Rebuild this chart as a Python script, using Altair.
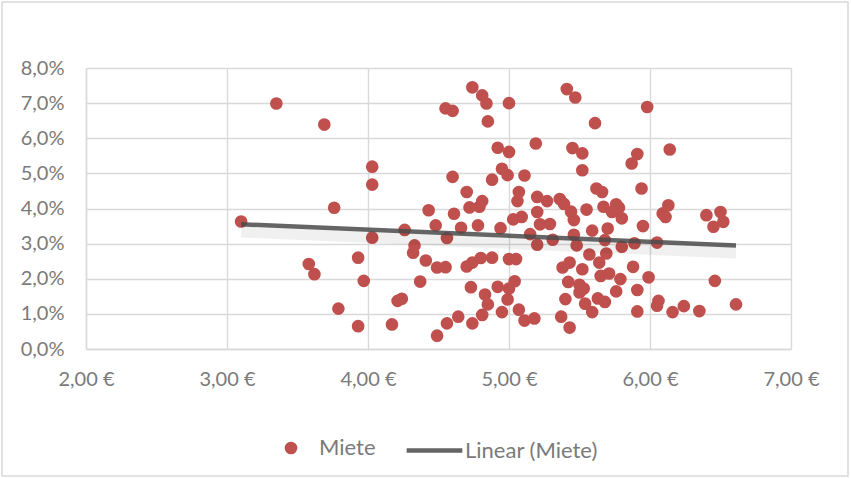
import altair as alt
import pandas as pd

# Preis je m² (€) and Rendite (%)
preis = [3.10, 3.35, 3.58, 3.62, 3.69, 3.76, 3.79, 3.93, 3.93, 3.97,
         4.03, 4.03, 4.03, 4.17, 4.21, 4.24, 4.26, 4.33, 4.32, 4.37,
         4.41, 4.43, 4.48, 4.49, 4.49, 4.55, 4.55, 4.56, 4.56, 4.60,
         4.60, 4.61, 4.64, 4.66, 4.70, 4.70, 4.72, 4.73, 4.74, 4.74,
         4.74, 4.78, 4.79, 4.81, 4.81, 4.80, 4.81, 4.83, 4.84, 4.85,
         4.85, 4.88, 4.88, 4.92, 4.92, 4.94, 4.95, 4.95, 4.99, 4.99,
         5.00, 5.00, 5.00, 5.00, 5.03, 5.04, 5.05, 5.06, 5.07, 5.07,
         5.09, 5.11, 5.11, 5.15, 5.18, 5.19, 5.20, 5.20, 5.20, 5.22,
         5.27, 5.29, 5.31, 5.36, 5.37, 5.38, 5.39, 5.40, 5.41, 5.42,
         5.43, 5.43, 5.44, 5.45, 5.46, 5.46, 5.47, 5.48, 5.50, 5.50,
         5.52, 5.52, 5.52, 5.53, 5.54, 5.55, 5.57, 5.59, 5.59, 5.61,
         5.62, 5.63, 5.64, 5.65, 5.66, 5.67, 5.68, 5.68, 5.69, 5.70,
         5.71, 5.73, 5.76, 5.76, 5.78, 5.79, 5.80, 5.80, 5.87, 5.88,
         5.89, 5.91, 5.91, 5.91, 5.94, 5.95, 5.98, 5.99, 6.05, 6.05,
         6.06, 6.09, 6.11, 6.13, 6.14, 6.16, 6.24, 6.35, 6.40, 6.45,
         6.46, 6.50, 6.52, 6.61]

rendite = [3.63, 6.99, 2.42, 2.13, 6.39, 4.02, 1.15, 2.60, 0.65, 1.94,
           5.19, 4.68, 3.17, 0.70, 1.37, 1.43, 3.39, 2.95, 2.74, 1.92,
           2.52, 3.95, 3.52, 0.38, 2.32, 6.85, 2.33, 0.73, 3.16, 6.78,
           4.90, 3.85, 0.92, 3.45, 4.47, 2.35, 4.03, 1.76, 7.45, 2.46,
           0.73, 3.52, 4.05, 7.22, 4.21, 2.59, 0.97, 1.55, 6.99, 6.48,
           1.27, 4.82, 2.60, 5.73, 1.77, 3.44, 5.13, 1.05, 4.95, 1.41,
           7.00, 5.61, 2.56, 1.72, 3.69, 1.93, 2.56, 4.21, 4.47, 1.12,
           3.76, 4.94, 0.81, 3.27, 0.87, 5.85, 4.33, 3.90, 2.97, 3.55,
           4.21, 3.56, 3.11, 4.27, 0.92, 2.32, 4.13, 1.42, 7.40, 1.91,
           2.46, 0.61, 3.91, 5.72, 3.67, 3.25, 7.16, 2.95, 1.83, 1.61,
           5.57, 5.09, 2.27, 1.72, 1.29, 3.97, 2.69, 3.37, 1.05, 6.43,
           4.57, 1.44, 2.46, 2.08, 4.47, 4.05, 3.10, 1.34, 2.72, 3.43,
           2.15, 3.90, 1.64, 4.12, 4.02, 1.99, 2.91, 3.72, 5.28, 2.34,
           3.01, 5.55, 1.68, 1.07, 4.57, 3.50, 6.89, 2.04, 3.03, 1.23,
           1.37, 3.86, 3.76, 4.09, 5.68, 1.05, 1.22, 1.08, 3.81, 3.48,
           1.94, 3.90, 3.62, 1.27]

# Trend line (Linear (Miete)) end points
trend_preis = [3.10, 6.61]
trend_rendite = [3.55, 2.95]

point_series = ["Miete"]
line_series = ["Linear (Miete)"]
point_color = ["#C0504D"]
line_color = ["#4a4a4a"]
x_ticks = [2, 3, 4, 5, 6, 7]
y_ticks = [0, 1, 2, 3, 4, 5, 6, 7, 8]

df = pd.DataFrame({"Preis": preis, "Rendite": rendite, "Serie": point_series[0]})
df_trend = pd.DataFrame({"Preis": trend_preis, "Rendite": trend_rendite, "Serie": line_series[0]})

FONT = "Lato"
TXT = "#7a7a7a"
GRID = "#d9d9d9"

x_axis = alt.Axis(values=x_ticks, title=None, ticks=False, grid=True,
                  labelFlush=False, labelOverlap=False,
                  labelExpr="replace(format(datum.value, '.2f'), '.', ',') + ' €'",
                  labelPadding=20)
y_axis = alt.Axis(values=y_ticks, title=None, ticks=False, grid=True,
                  labelFlush=False, labelOverlap=False,
                  labelExpr="replace(format(datum.value, '.1f'), '.', ',') + '%'",
                  labelPadding=22)
x_scale = alt.Scale(domain=[2, 7], nice=False)
y_scale = alt.Scale(domain=[0, 8], nice=False)

points = alt.Chart(df).mark_circle(size=160, opacity=1).encode(
    x=alt.X("Preis:Q", scale=x_scale, axis=x_axis),
    y=alt.Y("Rendite:Q", scale=y_scale, axis=y_axis),
    fill=alt.Fill("Serie:N", scale=alt.Scale(domain=point_series, range=point_color),
                  legend=alt.Legend(title=None, orient="none", legendX=194, legendY=369,
                                    symbolType="circle", symbolSize=160, labelOffset=17,
                                    padding=0, symbolOpacity=1, symbolStrokeWidth=0)),
)

shadow = alt.Chart(df_trend).transform_calculate(
    RS="datum.Rendite - 0.22"
).mark_line(color="#000000", strokeWidth=11, opacity=0.06).encode(
    x=alt.X("Preis:Q", scale=x_scale, axis=x_axis),
    y=alt.Y("RS:Q", scale=y_scale, axis=y_axis),
)

trend = alt.Chart(df_trend).mark_line(strokeWidth=4.5, opacity=0.85).encode(
    x=alt.X("Preis:Q", scale=x_scale, axis=x_axis),
    y=alt.Y("Rendite:Q", scale=y_scale, axis=y_axis),
    stroke=alt.Stroke("Serie:N", scale=alt.Scale(domain=line_series, range=line_color),
                      legend=alt.Legend(title=None, orient="none", legendX=318, legendY=352,
                                        symbolType="stroke", symbolSize=3100, labelOffset=0,
                                        padding=0, symbolStrokeWidth=4.5, symbolOpacity=0.85)),
)

border = alt.Chart(pd.DataFrame({"a": [0]})).mark_rect(
    fill="transparent", stroke=GRID, strokeWidth=1.5
).encode(x=alt.value(-84), x2=alt.value(762), y=alt.value(-66), y2=alt.value(408))

chart = alt.layer(points, shadow, trend, border).resolve_legend(
    fill="independent", stroke="independent"
).properties(
    width=705, height=281,
    autosize=alt.AutoSizeParams(type="none"),
    padding={"left": 86, "top": 68, "right": 60, "bottom": 129},
    background="white",
).configure_view(stroke=None).configure_axis(
    labelFont=FONT, labelFontSize=20, labelColor=TXT,
    gridColor=GRID, gridWidth=1.4, domainColor=GRID, domainWidth=1.4,
).configure_legend(
    labelFont=FONT, labelFontSize=22, labelColor=TXT,
)

chart.save("out.html", embed_options={"renderer": "svg", "actions": False})
